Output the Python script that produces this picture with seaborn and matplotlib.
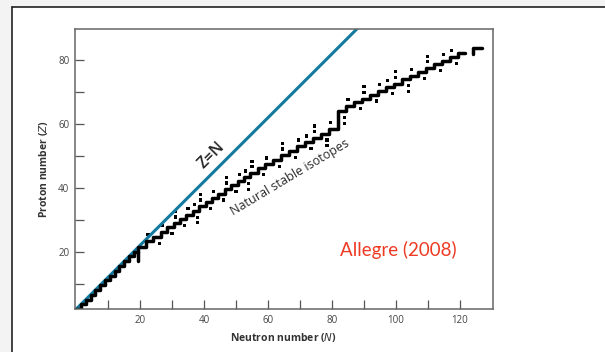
import matplotlib
matplotlib.use("Agg")
import matplotlib.pyplot as plt
import pandas as pd
import seaborn as sns
from matplotlib.lines import Line2D
from matplotlib.patches import Rectangle

# ==========================================
# DATA (in its axis units)
# ==========================================

# Z = N reference line (as drawn in the figure)
line_n = [0, 92]
line_z = [2, 94]

# main staircase of stable nuclides (steps-post corners)
stair_n = [0, 1.5, 3, 4.5, 6, 7.5, 9, 10.5, 12, 13.5, 15, 16.5, 18, 19.5,
           22, 24, 26.5, 28.5, 30.5, 32.5, 34.5, 36.5, 38.5, 40.5, 42.5,
           44.5, 46.5, 48.5, 50.5, 52.5, 54.5, 57, 59, 61.5, 64, 66.5, 69,
           71.5, 74, 76.5, 79, 82, 84.5, 87, 89.5, 92, 94.5, 97, 99.5, 102,
           104.5, 107, 109.5, 112, 114.5, 117, 119.5, 121.5]
stair_z = [2, 3.5, 5, 6.5, 8, 9.5, 11, 12.5, 14, 15.5, 17, 18.5, 20, 21.5,
           23.3, 24.6, 26.3, 27.6, 28.9, 30.2, 31.5, 32.8, 34.2, 35.5, 36.8,
           38.2, 39.5, 40.8, 42.1, 43.3, 44.6, 46.1, 47.4, 48.8, 50.2, 51.6,
           53.0, 54.3, 55.7, 57.0, 58.4, 64, 65.7, 66.9, 68.0, 69.2, 70.4,
           71.6, 72.7, 74.0, 75.1, 76.3, 77.5, 78.7, 79.9, 81.1, 82.3, 82.3]

# short detached pieces (N = 20 isotones, Pb/Bi end)
piece20_n = [19.5, 19.5]
piece20_z = [17, 20]
end_n = [124, 124, 127]
end_z = [82, 84, 84]

# isolated stable isotopes above the staircase
above_n = [22.5, 27, 31, 35, 39, 43, 47, 51, 55, 59.5, 64.5, 69.5, 74.5,
           79.5, 85, 90, 95, 100, 105, 110, 115,
           31, 39, 47, 55, 64.5, 74.5, 90, 100, 110,
           37, 53, 72, 97.5, 117.5]
above_z = [25.3, 28.3, 30.9, 33.5, 36.2, 38.8, 41.5, 44.1, 46.6, 49.4, 52.2,
           55.0, 57.7, 60.4, 67.7, 70.0, 72.4, 74.7, 77.1, 79.5, 81.9,
           32.6, 37.9, 43.2, 48.3, 53.9, 59.4, 71.7, 76.4, 81.2,
           34.8, 45.3, 56.3, 73.6, 83.1]

# isolated stable isotopes below the staircase
below_n = [26, 30, 34, 38, 42, 46, 50, 54, 58.5, 63.5, 68.5, 73.5, 78.5,
           84, 89, 94, 99, 104, 109, 114, 119,
           38, 54, 78.5, 84, 104]
below_z = [22.6, 25.6, 28.2, 30.8, 33.5, 36.2, 38.8, 41.3, 44.1, 46.8, 49.6,
           52.3, 55.0, 62.0, 64.9, 67.2, 69.6, 72.0, 74.3, 76.7, 79.1,
           29.1, 39.6, 53.3, 60.3, 70.3]

x_major = [20, 40, 60, 80, 100, 120]
x_minor = [10, 30, 50, 70, 90, 110]
y_major = [20, 40, 60, 80]
y_minor = [10, 30, 50, 70]

# ==========================================
# FIGURE
# ==========================================

sns.set_theme(style="white")
plt.rcParams["font.family"] = ["Open Sans", "DejaVu Sans"]

fig = plt.figure(figsize=(6.05, 3.52), dpi=100)

# page frame of the scanned document
fig.add_artist(Rectangle((0, 1 - 7 / 352), 1, 7 / 352,
                         transform=fig.transFigure, color="#f3f3f3", lw=0))
fig.add_artist(Rectangle((0, 0), 12 / 605, 1,
                         transform=fig.transFigure, color="#f3f3f3", lw=0))
fig.add_artist(Line2D([12 / 605, 12 / 605], [0, 1 - 7 / 352],
                      transform=fig.transFigure, color="#222222", lw=1.2))
fig.add_artist(Line2D([12 / 605, 1], [1 - 7 / 352, 1 - 7 / 352],
                      transform=fig.transFigure, color="#222222", lw=1.2))

ax = fig.add_axes([0.124, 0.1213, 0.6904, 0.7963])

# Z = N line
sns.lineplot(x=line_n, y=line_z, ax=ax, color="#127a9e", lw=2.2,
             estimator=None, sort=False)

# staircase pieces
pieces = pd.concat([
    pd.DataFrame({"n": stair_n, "z": stair_z, "piece": 0}),
    pd.DataFrame({"n": piece20_n, "z": piece20_z, "piece": 1}),
    pd.DataFrame({"n": end_n, "z": end_z, "piece": 2}),
])

sns.lineplot(data=pieces, x="n", y="z", units="piece", estimator=None,
             sort=False, drawstyle="steps-post", color="black", lw=2.5,
             ax=ax)

# dots
dots = pd.DataFrame({
    "n": above_n + below_n,
    "z": above_z + below_z,
})

sns.scatterplot(data=dots, x="n", y="z", ax=ax, marker="s", s=5.5,
                color="black", edgecolor="none", linewidth=0)

ax.set_xlim(-0.35, 130.3)
ax.set_ylim(1.95, 89.8)

ax.set_xticks(x_major)
ax.set_xticks(x_minor, minor=True)
ax.set_yticks(y_major)
ax.set_yticks(y_minor, minor=True)

ax.tick_params(which="both", direction="in", length=6.5, width=0.9,
               color="#555555", labelsize=7, labelcolor="#444444", pad=4,
               bottom=True, left=True)

for spine in ax.spines.values():

    spine.set_color("#666666")

    spine.set_linewidth(1.1)

ax.set_xlabel("Neutron number ($\\mathit{N}$)", fontsize=7.5,
              fontweight="bold", color="#333333", labelpad=4)
ax.set_ylabel("Proton number ($\\mathit{Z}$)", fontsize=7.5,
              fontweight="bold", color="#333333", labelpad=6)

# annotations
ax.text(42.3, 50.3, "Z=N", rotation=45, fontsize=11.5, color="#222222",
        fontweight="semibold", ha="center", va="center",
        rotation_mode="anchor")
ax.text(66.8, 43.2, "Natural stable isotopes", rotation=31, fontsize=9,
        color="#2a2a2a", ha="center", va="center", rotation_mode="anchor")
ax.text(100.9, 20.4, "Allegre (2008)", fontsize=13.5, color="#ee3b24",
        family=["Lato", "DejaVu Sans"], ha="center", va="center")

plt.savefig("out.png", dpi=100)
plt.close()
